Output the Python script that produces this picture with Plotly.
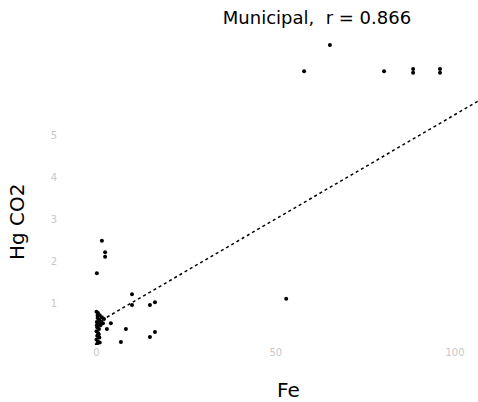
import plotly.graph_objects as go

# Fe / Hg CO2 measurements, municipal samples
fe = [65.1, 57.9, 80.2, 88.3, 88.3, 95.8, 95.8, 52.9,
      9.9, 9.9, 14.9, 16.3, 8.2, 6.8, 14.9, 16.3, 2.9, 4.0,
      1.5, 2.4, 2.4, 0.1,
      0.0, 0.4, 0.9, 1.5, 2.1, 0.3, 0.8, 0.1, 0.6, 1.1, 0.2, 0.7,
      0.0, 0.5, 0.2, 0.8, 0.0, 0.4, 0.9, 0.1, 1.3, 1.8, 0.3, 0.6, 0.1]
hg_co2 = [7.14, 6.52, 6.52, 6.57, 6.48, 6.57, 6.48, 1.10,
          1.21, 0.95, 0.95, 1.02, 0.38, 0.07, 0.19, 0.31, 0.38, 0.52,
          2.48, 2.21, 2.10, 1.71,
          0.79, 0.76, 0.71, 0.66, 0.62, 0.64, 0.60, 0.55, 0.50, 0.47, 0.42, 0.38,
          0.33, 0.28, 0.22, 0.18, 0.13, 0.08, 0.06, 0.47, 0.55, 0.52, 0.70, 0.25, 0.02]

# least-squares fit and correlation shown in the title
fit_intercept = 0.517
fit_slope = 0.0497
r_value = 0.866

x_ticks = [0, 50, 100]
y_ticks = [1, 2, 3, 4, 5]
x_range = [-10.74, 106.4]
y_range = [0.0, 7.5]

fit_x = [min(fe), x_range[1]]
fit_y = [fit_intercept + fit_slope * v for v in fit_x]

W, H = 478, 402

fig = go.Figure()
fig.add_trace(go.Scatter(
    x=fe, y=hg_co2, mode="markers",
    marker=dict(color="black", size=4),
    showlegend=False,
))
fig.add_trace(go.Scatter(
    x=fit_x, y=fit_y, mode="lines",
    line=dict(color="black", width=1.5, dash="dot"),
    showlegend=False,
))

fig.update_layout(
    width=W, height=H,
    margin=dict(l=58, r=0, t=30, b=57),
    paper_bgcolor="white", plot_bgcolor="white",
    font=dict(family="DejaVu Sans", color="black"),
    title=dict(text=f"Municipal,  r = {r_value:.3f}", x=317 / W, xref="container",
               xanchor="center", y=1 - 18 / H, yanchor="middle",
               font=dict(size=18, color="black")),
    annotations=[
        dict(text="Fe", xref="paper", yref="paper",
             x=(288 - 58) / 420, y=-(390 - 345) / 315,
             xanchor="center", yanchor="middle", showarrow=False,
             font=dict(size=20, color="black")),
        dict(text="Hg CO2", xref="paper", yref="paper",
             x=-(58 - 17) / 420, y=(345 - 222) / 315, textangle=-90,
             xanchor="center", yanchor="middle", showarrow=False,
             font=dict(size=20, color="black")),
    ],
)
fig.update_xaxes(
    range=x_range, tickvals=x_ticks, showgrid=False, zeroline=False,
    showline=False, ticks="", tickfont=dict(size=10, color="#c8c8c8"),
)
fig.update_yaxes(
    range=y_range, tickvals=y_ticks, showgrid=False, zeroline=False,
    showline=False, ticks="", tickfont=dict(size=10, color="#c8c8c8"),
)

fig.write_html("out.html")
